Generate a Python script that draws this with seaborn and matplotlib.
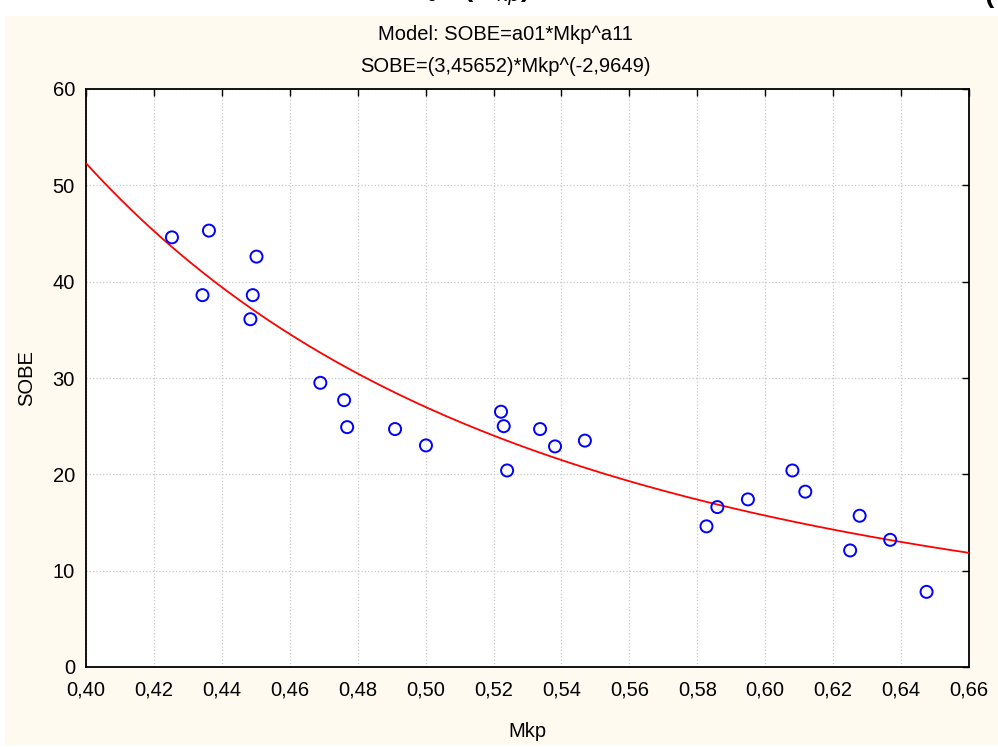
import numpy as np
import pandas as pd
import matplotlib
matplotlib.use('Agg')
import matplotlib.pyplot as plt
import matplotlib.ticker as mticker
from matplotlib.patches import Rectangle
import seaborn as sns

# Data
mkp = [0.4253, 0.4362, 0.4343, 0.4502, 0.4491, 0.4484, 0.4690, 0.4760, 0.4769,
       0.4910, 0.5001, 0.5222, 0.5230, 0.5240, 0.5337, 0.5381, 0.5469, 0.5827,
       0.5859, 0.5949, 0.6080, 0.6118, 0.6250, 0.6278, 0.6368, 0.6475]
sobe = [44.6, 45.3, 38.6, 42.6, 38.6, 36.1, 29.5, 27.7, 24.9,
        24.7, 23.0, 26.5, 25.0, 20.4, 24.7, 22.9, 23.5, 14.6,
        16.6, 17.4, 20.4, 18.2, 12.1, 15.7, 13.2, 7.8]

# fitted model parameters (from the title)
a01 = 3.45652
a11 = -2.9649

x_ticks = [0.40, 0.42, 0.44, 0.46, 0.48, 0.50, 0.52, 0.54, 0.56, 0.58, 0.60, 0.62, 0.64, 0.66]
y_ticks = [0, 10, 20, 30, 40, 50, 60]

df = pd.DataFrame({'Mkp': mkp, 'SOBE': sobe})
x_fit = np.linspace(0.40, 0.66, 200)
df_fit = pd.DataFrame({'Mkp': x_fit, 'SOBE': a01 * x_fit ** a11})

sns.set_style('white')
plt.rcParams['font.family'] = ['Liberation Sans', 'DejaVu Sans']
plt.rcParams['text.color'] = 'black'
plt.rcParams['axes.labelcolor'] = 'black'

FS = 14.5
W, H = 998, 747
fig = plt.figure(figsize=(W / 100, H / 100), dpi=100, facecolor='white')
# cream panel behind the plot
fig.patches.append(Rectangle((5 / W, 2 / H), 1 - 5 / W, 1 - 18 / H,
                             transform=fig.transFigure, facecolor='#fffaf0',
                             edgecolor='none', zorder=-5))

ax = fig.add_axes([86 / W, 1 - 667 / H, (969 - 86) / W, (667 - 89) / H])
ax.set_zorder(2)
ax.set_facecolor('white')

sns.lineplot(data=df_fit, x='Mkp', y='SOBE', color='red', linewidth=1.3, ax=ax, zorder=3)
sns.scatterplot(data=df, x='Mkp', y='SOBE', marker='o', s=75, facecolors='none',
                edgecolor='blue', linewidth=1.4, ax=ax, zorder=4)

ax.set_xlim(0.40, 0.66)
ax.set_ylim(0, 60)
ax.set_xticks(x_ticks)
ax.set_yticks(y_ticks)
ax.xaxis.set_major_formatter(mticker.FuncFormatter(lambda v, p: f'{v:.2f}'.replace('.', ',')))
ax.yaxis.set_major_formatter(mticker.FuncFormatter(lambda v, p: f'{v:.0f}'))
ax.grid(True, color='#c8c8c8', linestyle=':', linewidth=0.9)
ax.tick_params(direction='in', length=5, width=1, colors='black', labelsize=FS,
               top=True, right=True, pad=10)
ax.tick_params(axis='y', pad=8)
for s in ax.spines.values():
    s.set_color('black')
    s.set_linewidth(1.3)

ax.set_xlabel('Mkp', fontsize=FS, labelpad=16)
ax.set_ylabel('SOBE', fontsize=FS, labelpad=12)

fig.text(505 / W, 1 - 35 / H, 'Model: SOBE=a01*Mkp^a11', ha='center', va='center', fontsize=FS)
fig.text(505 / W, 1 - 67 / H, 'SOBE=(3,45652)*Mkp^(-2,9649)', ha='center', va='center', fontsize=FS)

# top title, cut off by the image edge
fig.text(300 / W, 1 - 8 / H, r'SOBE = a$_0$ · (M$_{kp}$)$^{a_1}$', ha='left', va='bottom',
         fontsize=20, fontweight='bold')
fig.text(985 / W, 1 - 8 / H, '(', ha='left', va='bottom', fontsize=20, fontweight='bold')

fig.savefig('out.png', dpi=100, facecolor='white')
